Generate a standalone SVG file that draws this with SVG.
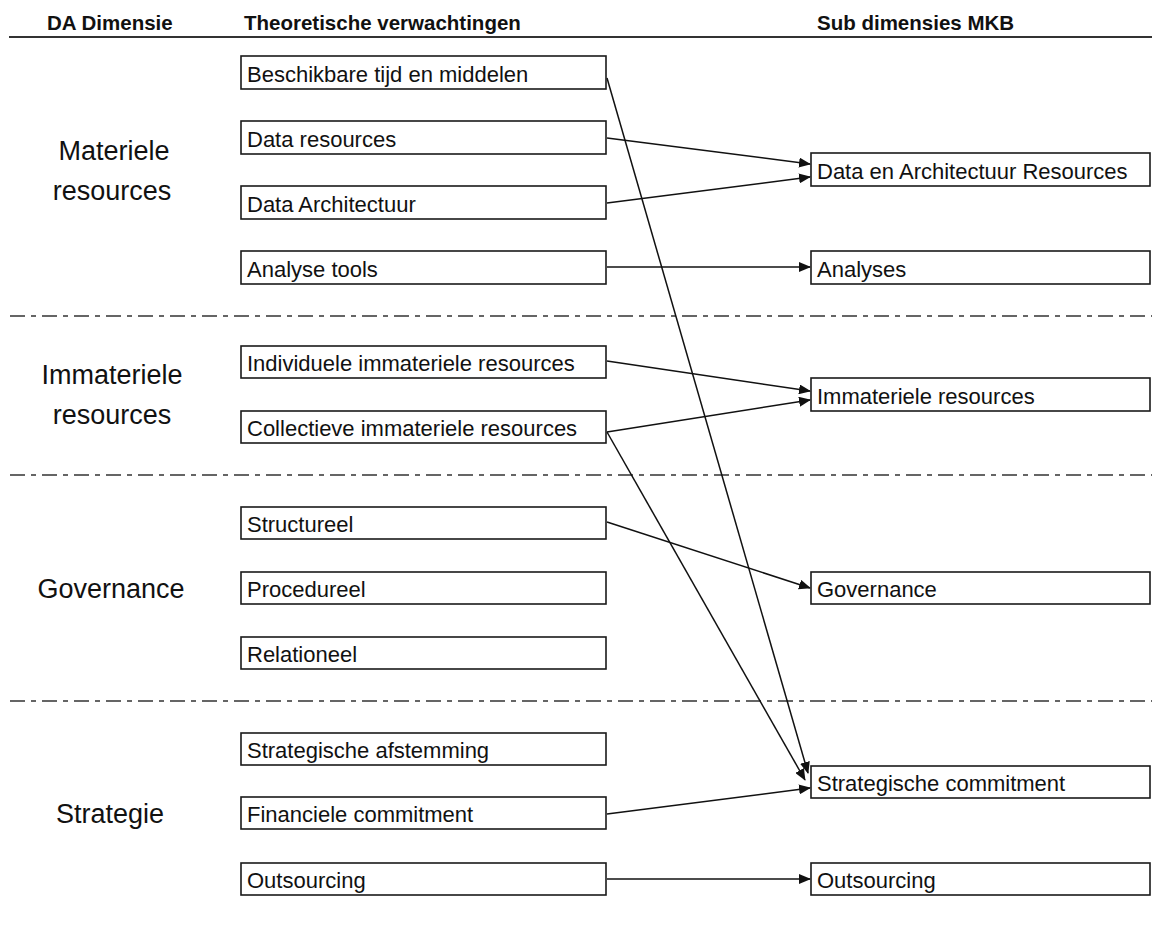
<svg xmlns="http://www.w3.org/2000/svg" width="1152" height="925" viewBox="0 0 1152 925">
<defs>
<style>
.bg{fill:#ffffff}
.hdr{font-family:"Liberation Sans",Arial,sans-serif;font-weight:bold;font-size:20.5px;fill:#111}
.dim{font-family:"Liberation Sans",Arial,sans-serif;font-size:27px;fill:#111;text-anchor:middle}
.box{fill:#ffffff;stroke:#1a1a1a;stroke-width:1.6}
.lbl{font-family:"Liberation Sans",Arial,sans-serif;font-size:22px;fill:#111}
.rule{stroke:#333;stroke-width:2;fill:none}
.sep{stroke:#333;stroke-width:1.6;fill:none;stroke-dasharray:15 6 5 6}
.con{stroke:#111;stroke-width:1.5;fill:none;marker-end:url(#arr)}
</style>
<marker id="arr" markerUnits="userSpaceOnUse" markerWidth="12" markerHeight="10" refX="11" refY="5" orient="auto">
<path d="M0,0 L12,5 L0,10 z" fill="#111"/>
</marker>
</defs>
<rect class="bg" x="0" y="0" width="1152" height="925"/>

<g id="headers">
<text class="hdr" x="47" y="29.5">DA Dimensie</text>
<text class="hdr" x="244" y="29.5">Theoretische verwachtingen</text>
<text class="hdr" x="817" y="29.5">Sub dimensies MKB</text>
<line class="rule" x1="9" y1="37" x2="1152" y2="37"/>
</g>

<g id="separators">
<line class="sep" x1="10" y1="316" x2="1152" y2="316"/>
<line class="sep" x1="10" y1="475" x2="1152" y2="475"/>
<line class="sep" x1="10" y1="701" x2="1152" y2="701"/>
</g>

<g id="dimensions">
<text class="dim" x="114" y="160">Materiele</text>
<text class="dim" x="112" y="200">resources</text>
<text class="dim" x="112" y="384">Immateriele</text>
<text class="dim" x="112" y="424">resources</text>
<text class="dim" x="111" y="598">Governance</text>
<text class="dim" x="110" y="823">Strategie</text>
</g>

<g id="connectors">
<line class="con" x1="607" y1="78" x2="808" y2="773"/>
<line class="con" x1="607" y1="138" x2="810" y2="164"/>
<line class="con" x1="607" y1="203" x2="810" y2="177"/>
<line class="con" x1="607" y1="267" x2="810" y2="267"/>
<line class="con" x1="607" y1="361" x2="810" y2="391"/>
<line class="con" x1="607" y1="432" x2="810" y2="400"/>
<line class="con" x1="607" y1="432" x2="805" y2="780"/>
<line class="con" x1="607" y1="522" x2="810" y2="588"/>
<line class="con" x1="607" y1="814" x2="810" y2="788"/>
<line class="con" x1="607" y1="879" x2="810" y2="879"/>
</g>

<g id="n-beschikbare"><rect class="box" x="241" y="56" width="365" height="33"/><text class="lbl" x="247" y="81.5">Beschikbare tijd en middelen</text></g>
<g id="n-data-resources"><rect class="box" x="241" y="121" width="365" height="33"/><text class="lbl" x="247" y="146.5">Data resources</text></g>
<g id="n-data-architectuur"><rect class="box" x="241" y="186" width="365" height="33"/><text class="lbl" x="247" y="211.5">Data Architectuur</text></g>
<g id="n-analyse-tools"><rect class="box" x="241" y="251" width="365" height="33"/><text class="lbl" x="247" y="276.5">Analyse tools</text></g>
<g id="n-individuele"><rect class="box" x="241" y="346" width="365" height="32"/><text class="lbl" x="247" y="371">Individuele immateriele resources</text></g>
<g id="n-collectieve"><rect class="box" x="241" y="411" width="365" height="32"/><text class="lbl" x="247" y="436">Collectieve immateriele resources</text></g>
<g id="n-structureel"><rect class="box" x="241" y="507" width="365" height="32"/><text class="lbl" x="247" y="532">Structureel</text></g>
<g id="n-procedureel"><rect class="box" x="241" y="572" width="365" height="32"/><text class="lbl" x="247" y="597">Procedureel</text></g>
<g id="n-relationeel"><rect class="box" x="241" y="637" width="365" height="32"/><text class="lbl" x="247" y="662">Relationeel</text></g>
<g id="n-strategische-afstemming"><rect class="box" x="241" y="733" width="365" height="32"/><text class="lbl" x="247" y="758">Strategische afstemming</text></g>
<g id="n-financiele"><rect class="box" x="241" y="797" width="365" height="32"/><text class="lbl" x="247" y="822">Financiele commitment</text></g>
<g id="n-outsourcing-l"><rect class="box" x="241" y="863" width="365" height="32"/><text class="lbl" x="247" y="888">Outsourcing</text></g>

<g id="n-data-arch-resources"><rect class="box" x="811" y="153" width="339" height="33"/><text class="lbl" x="817" y="178.5">Data en Architectuur Resources</text></g>
<g id="n-analyses"><rect class="box" x="811" y="251" width="339" height="33"/><text class="lbl" x="817" y="276.5">Analyses</text></g>
<g id="n-immateriele"><rect class="box" x="811" y="378" width="339" height="33"/><text class="lbl" x="817" y="403.5">Immateriele resources</text></g>
<g id="n-governance"><rect class="box" x="811" y="572" width="339" height="32"/><text class="lbl" x="817" y="597">Governance</text></g>
<g id="n-strategische-commitment"><rect class="box" x="811" y="766" width="339" height="32"/><text class="lbl" x="817" y="791">Strategische commitment</text></g>
<g id="n-outsourcing-r"><rect class="box" x="811" y="863" width="339" height="32"/><text class="lbl" x="817" y="888">Outsourcing</text></g>
</svg>
